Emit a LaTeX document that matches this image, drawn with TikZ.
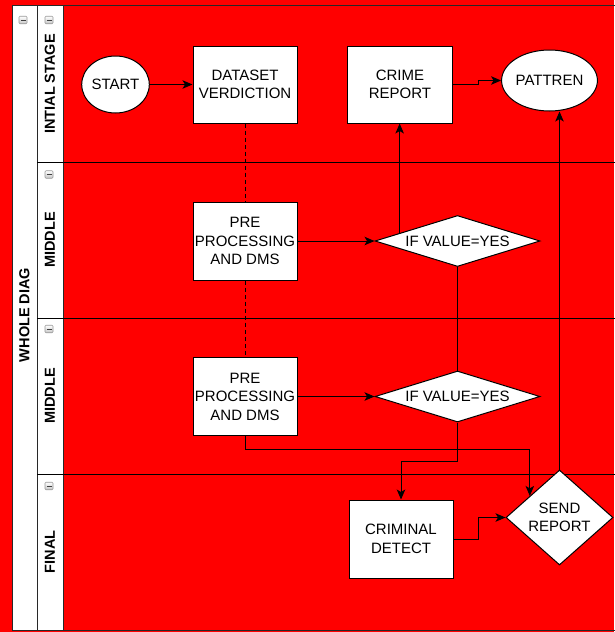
\documentclass[tikz,border=0pt]{standalone}
\usepackage{fontspec}
\setmainfont{Liberation Sans}
\usetikzlibrary{shapes.geometric,arrows.meta,calc}
\definecolor{lanered}{RGB}{255,0,0}
\definecolor{poolline}{RGB}{40,40,40}
\begin{document}
\begin{tikzpicture}[x=1pt,y=-1pt,
  txt/.style={font=\fontsize{15}{18.5}\selectfont, text=black},
  box/.style={txt, draw=black, fill=white, line width=1pt, inner sep=0pt,
    minimum width=104pt, minimum height=78pt, align=center},
  oval/.style={txt, ellipse, draw=black, fill=white, line width=1pt, inner sep=0pt},
  decision/.style={txt, diamond, draw=black, fill=white, line width=1pt, inner sep=0pt, align=center},
  lanelabel/.style={font=\fontsize{14.5}{17}\selectfont\bfseries, rotate=90, inner sep=0pt},
  icon/.style={draw=gray!80, rounded corners=1pt, top color=white, bottom color=gray!45,
    minimum width=8pt, minimum height=7.5pt, inner sep=0pt, line width=0.6pt,
    path picture={\draw[black!75, line width=1pt]
      ([xshift=-2.5pt]path picture bounding box.center) -- ([xshift=2.5pt]path picture bounding box.center);}},
  arr/.style={-{Stealth[length=10pt,width=8.5pt,inset=2.5pt]}, line width=1pt, draw=black},
  link/.style={line width=1pt, draw=black},
  dashlink/.style={line width=0.8pt, draw=black, dash pattern=on 4pt off 3pt}
]
\useasboundingbox (0,0) rectangle (614,632);
% background and pool
\fill[lanered] (0,0) rectangle (614,632);
\fill[white] (12,5) rectangle (63,630);
\draw[poolline, line width=1pt] (620,5) -- (12,5) -- (12,630) -- (620,630);
\draw[poolline, line width=1pt] (37,5) -- (37,630);
\draw[poolline, line width=1pt] (63,5) -- (63,630);
\draw[black, line width=1pt] (37,162) -- (620,162);
\draw[black, line width=1pt] (37,318) -- (620,318);
\draw[black, line width=1pt] (37,474) -- (620,474);
% icons
\node[icon] (ic0) at (23,20) {};
\node[icon] (ic1) at (49,20) {};
\node[icon] (ic2) at (49,174.5) {};
\node[icon] (ic3) at (49,329) {};
\node[icon] (ic4) at (49,486) {};
% labels
\node[lanelabel] (lw) at (24.5,315) {WHOLE DIAG};
\node[lanelabel] (l1) at (50,84) {INTIAL STAGE};
\node[lanelabel] (l2) at (50,240) {MIDDLE};
\node[lanelabel] (l3) at (50,396) {MIDDLE};
\node[lanelabel] (l4) at (50,552) {FINAL};
% nodes
\node[oval, minimum width=52pt, minimum height=57pt] (st) at (115.5,84.5) {START};
\node[box, minimum height=77pt] (dv) at (245,84.5) {DATASET\\VERDICTION};
\node[box, minimum width=105pt, minimum height=77pt] (cr) at (400,84.5) {CRIME\\REPORT};
\node[oval, minimum width=89pt, minimum height=61pt] (pat) at (549.5,80.5) {PATTREN};
\node[box] (p1) at (245,241) {PRE\\PROCESSING\\AND DMS};
\node[decision, minimum width=165pt, minimum height=51pt, aspect=3.2] (d1) at (457.5,241) {IF VALUE=YES};
\node[box] (p2) at (245,396.5) {PRE\\PROCESSING\\AND DMS};
\node[decision, minimum width=165pt, minimum height=51pt, aspect=3.2] (d2) at (457.5,396.5) {IF VALUE=YES};
\node[box] (cd) at (401,539) {CRIMINAL\\DETECT};
\node[decision, minimum width=107pt, minimum height=95pt, aspect=1.1] (sr) at (559.5,517.5) {SEND\\REPORT};
% connectors
\draw[arr] (st.east) -- (dv.west);
\draw[arr] (cr.east) -- ++(25,0) |- (pat.west);
\draw[dashlink] (dv.south) -- (p1.north);
\draw[dashlink] (p1.south) -- (p2.north);
\draw[arr] (p1.east) -- (d1.west);
\coordinate (d1up) at ($(d1.west)!0.303!(d1.north)$);
\draw[arr] (d1up) -- (d1up |- cr.south);
\draw[link] (d1.south) -- (d2.north);
\draw[arr] (p2.east) -- (d2.west);
\draw[arr] (d2.south) -- ++(0,39) -| (cd.north);
\coordinate (srin) at ($(sr.west)!0.45!(sr.north)$);
\draw[arr] (p2.south) -- ++(0,13) -| (srin);
\draw[arr] (cd.east) -- ++(25,0) |- (sr.west);
\draw[arr] (sr.north) -- (sr.north |- pat.south);
\end{tikzpicture}
\end{document}
